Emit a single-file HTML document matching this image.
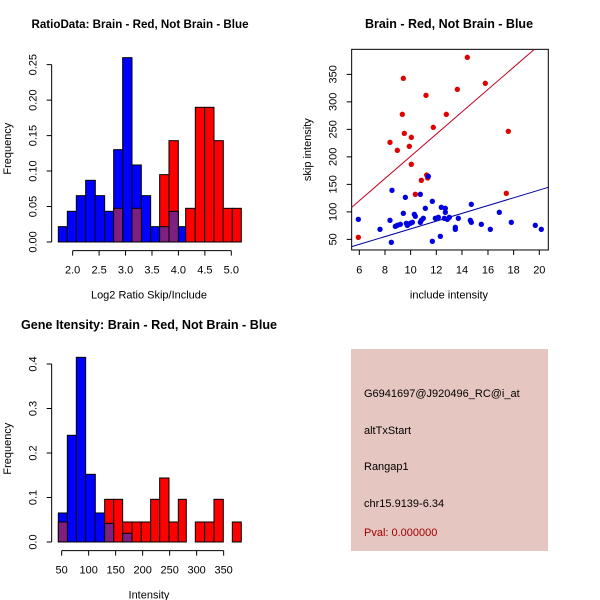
<!DOCTYPE html>
<html><head><style>body{margin:0;background:#fff}svg{display:block}text{font-family:"Liberation Sans",sans-serif}</style></head><body>
<svg width="600" height="600" viewBox="0 0 600 600" xmlns="http://www.w3.org/2000/svg">
<rect width="600" height="600" fill="#fff"/>
<text x="140" y="28" font-size="11.6" font-weight="bold" text-anchor="middle">RatioData: Brain - Red, Not Brain - Blue</text>
<text x="449" y="28" font-size="12.5" font-weight="bold" text-anchor="middle">Brain - Red, Not Brain - Blue</text>
<text x="149" y="329" font-size="12.6" font-weight="bold" text-anchor="middle">Gene Itensity: Brain - Red, Not Brain - Blue</text>

<!-- Top-left histogram -->
<g transform="translate(0,40) scale(0.3333)" stroke="#000" stroke-width="3" font-size="33">
<g fill="#0000ff">
<rect x="175" y="560" width="27" height="46"/><rect x="202" y="514" width="27" height="92"/><rect x="229" y="467" width="28" height="139"/><rect x="257" y="421" width="29" height="185"/><rect x="286" y="467" width="28" height="139"/><rect x="314" y="514" width="27" height="92"/><rect x="341" y="329" width="27" height="277"/><rect x="368" y="53" width="28" height="553"/><rect x="396" y="375" width="28" height="231"/><rect x="424" y="467" width="28" height="139"/><rect x="452" y="560" width="27" height="46"/><rect x="535" y="560" width="22" height="46"/>
</g>
<g fill="#ff0000">
<rect x="479" y="404" width="28" height="202"/><rect x="507" y="302" width="28" height="304"/><rect x="557" y="505" width="29" height="101"/><rect x="586" y="202" width="28" height="404"/><rect x="614" y="202" width="28" height="404"/><rect x="642" y="302" width="28" height="304"/><rect x="670" y="505" width="27" height="101"/><rect x="697" y="505" width="27" height="101"/>
</g>
<g fill="#7f1f7f">
<rect x="341" y="505" width="27" height="101"/><rect x="396" y="505" width="28" height="101"/><rect x="479" y="560" width="28" height="46"/><rect x="507" y="514" width="28" height="92"/>
</g>
<g fill="none"><path d="M155 74V606M140 606H155M140 499.6H155M140 393.2H155M140 286.8H155M140 180.4H155M140 74H155"/>
<path d="M218 632H694M218 632v15M297.3 632v15M376.7 632v15M456 632v15M535.3 632v15M614.7 632v15M694 632v15"/></g>
<g stroke="none" fill="#000">
<g text-anchor="middle"><text x="218" y="700">2.0</text><text x="297.3" y="700">2.5</text><text x="376.7" y="700">3.0</text><text x="456" y="700">3.5</text><text x="535.3" y="700">4.0</text><text x="614.7" y="700">4.5</text><text x="694" y="700">5.0</text>
<text transform="translate(110,606) rotate(-90)">0.00</text><text transform="translate(110,499.6) rotate(-90)">0.05</text><text transform="translate(110,393.2) rotate(-90)">0.10</text><text transform="translate(110,286.8) rotate(-90)">0.15</text><text transform="translate(110,180.4) rotate(-90)">0.20</text><text transform="translate(110,74) rotate(-90)">0.25</text>
<text x="447" y="775">Log2 Ratio Skip/Include</text><text transform="translate(33,326) rotate(-90)">Frequency</text></g></g>
</g>

<!-- Scatter -->
<g transform="translate(300,40) scale(0.3333)" stroke="#000" stroke-width="3" font-size="33">
<rect x="155" y="28" width="590" height="602" fill="none"/>
<path d="M155 502L703 28" stroke="#c00020" stroke-width="3"/>
<path d="M155 620L745 442" stroke="#0000a0" stroke-width="3"/>
<g stroke="none" fill="#e00000">
<circle cx="175" cy="592" r="8"/><circle cx="270" cy="307" r="8"/><circle cx="292" cy="331" r="8"/><circle cx="307" cy="223" r="8"/><circle cx="310" cy="115" r="8"/><circle cx="313" cy="280" r="8"/><circle cx="328" cy="319" r="8"/><circle cx="334" cy="292" r="8"/><circle cx="334" cy="373" r="8"/><circle cx="346" cy="463" r="8"/><circle cx="364" cy="421" r="8"/><circle cx="378" cy="166" r="8"/><circle cx="380" cy="405" r="8"/><circle cx="383" cy="414" r="8"/><circle cx="400" cy="262" r="8"/><circle cx="439" cy="223" r="8"/><circle cx="472" cy="148" r="8"/><circle cx="502" cy="52" r="8"/><circle cx="556" cy="130" r="8"/><circle cx="619" cy="460" r="8"/><circle cx="625" cy="274" r="8"/>
</g>
<g stroke="none" fill="#0000e0">
<circle cx="175" cy="538" r="8"/><circle cx="240" cy="568" r="8"/><circle cx="270" cy="541" r="8"/><circle cx="276" cy="451" r="8"/><circle cx="274" cy="607" r="8"/><circle cx="286" cy="559" r="8"/><circle cx="292" cy="556" r="8"/><circle cx="301" cy="553" r="8"/><circle cx="310" cy="520" r="8"/><circle cx="316" cy="472" r="8"/><circle cx="319" cy="550" r="8"/><circle cx="322" cy="556" r="8"/><circle cx="325" cy="553" r="8"/><circle cx="331" cy="550" r="8"/><circle cx="337" cy="547" r="8"/><circle cx="343" cy="523" r="8"/><circle cx="346" cy="529" r="8"/><circle cx="361" cy="463" r="8"/><circle cx="361" cy="547" r="8"/><circle cx="364" cy="541" r="8"/><circle cx="370" cy="535" r="8"/><circle cx="376" cy="505" r="8"/><circle cx="385" cy="409" r="8"/><circle cx="397" cy="484" r="8"/><circle cx="397" cy="604" r="8"/><circle cx="406" cy="535" r="8"/><circle cx="415" cy="532" r="8"/><circle cx="421" cy="589" r="8"/><circle cx="424" cy="502" r="8"/><circle cx="433" cy="535" r="8"/><circle cx="436" cy="505" r="8"/><circle cx="436" cy="517" r="8"/><circle cx="442" cy="538" r="8"/><circle cx="448" cy="532" r="8"/><circle cx="466" cy="562" r="8"/><circle cx="466" cy="568" r="8"/><circle cx="475" cy="535" r="8"/><circle cx="514" cy="493" r="8"/><circle cx="511" cy="541" r="8"/><circle cx="514" cy="547" r="8"/><circle cx="544" cy="553" r="8"/><circle cx="571" cy="568" r="8"/><circle cx="598" cy="517" r="8"/><circle cx="634" cy="547" r="8"/><circle cx="706" cy="556" r="8"/><circle cx="724" cy="568" r="8"/>
</g>
<path fill="none" d="M178 630v15M255 630v15M332 630v15M409 630v15M486 630v15M564 630v15M641 630v15M718 630v15M140 598H155M140 515.5H155M140 433H155M140 350.5H155M140 268H155M140 185.5H155M140 103H155"/>
<g stroke="none" fill="#000" text-anchor="middle">
<text x="178" y="700">6</text><text x="255" y="700">8</text><text x="332" y="700">10</text><text x="409" y="700">12</text><text x="486" y="700">14</text><text x="564" y="700">16</text><text x="641" y="700">18</text><text x="718" y="700">20</text>
<text transform="translate(110,598) rotate(-90)">50</text><text transform="translate(110,515.5) rotate(-90)">100</text><text transform="translate(110,433) rotate(-90)">150</text><text transform="translate(110,350.5) rotate(-90)">200</text><text transform="translate(110,268) rotate(-90)">250</text><text transform="translate(110,185.5) rotate(-90)">300</text><text transform="translate(110,103) rotate(-90)">350</text>
<text x="447" y="775">include intensity</text><text transform="translate(33,329) rotate(-90)">skip intensity</text></g>
</g>

<!-- Bottom-left histogram -->
<g transform="translate(0,340) scale(0.3333)" stroke="#000" stroke-width="3" font-size="33">
<g fill="#0000ff">
<rect x="175" y="519" width="27" height="87"/><rect x="202" y="286" width="27" height="320"/><rect x="229" y="52" width="28" height="554"/><rect x="257" y="403" width="29" height="203"/><rect x="286" y="519" width="28" height="87"/>
</g>
<g fill="#ff0000">
<rect x="314" y="478" width="27" height="128"/><rect x="341" y="478" width="27" height="128"/><rect x="368" y="546" width="28" height="60"/><rect x="396" y="546" width="28" height="60"/><rect x="424" y="546" width="28" height="60"/><rect x="452" y="478" width="27" height="128"/><rect x="479" y="414" width="28" height="192"/><rect x="507" y="546" width="28" height="60"/><rect x="535" y="478" width="24" height="128"/><rect x="586" y="546" width="28" height="60"/><rect x="614" y="546" width="28" height="60"/><rect x="642" y="478" width="28" height="128"/><rect x="697" y="546" width="27" height="60"/>
</g>
<g fill="#7f1f7f"><rect x="175" y="546" width="27" height="60"/><rect x="314" y="550" width="27" height="56"/><rect x="368" y="580" width="28" height="26"/></g>
<path fill="none" d="M155 72V606M140 606H155M140 472.5H155M140 339H155M140 205.5H155M140 72H155M185 632H671M185 632v15M266 632v15M347 632v15M428 632v15M509 632v15M590 632v15M671 632v15"/>
<g stroke="none" fill="#000" text-anchor="middle">
<text x="185" y="700">50</text><text x="266" y="700">100</text><text x="347" y="700">150</text><text x="428" y="700">200</text><text x="509" y="700">250</text><text x="590" y="700">300</text><text x="671" y="700">350</text>
<text transform="translate(110,606) rotate(-90)">0.0</text><text transform="translate(110,472.5) rotate(-90)">0.1</text><text transform="translate(110,339) rotate(-90)">0.2</text><text transform="translate(110,205.5) rotate(-90)">0.3</text><text transform="translate(110,72) rotate(-90)">0.4</text>
<text x="447" y="775">Intensity</text><text transform="translate(33,326) rotate(-90)">Frequency</text></g>
</g>

<!-- Info box -->
<rect x="351" y="349" width="197" height="202" fill="#e6c6c0"/>
<g font-size="11" fill="#000">
<text x="364" y="397">G6941697@J920496_RC@i_at</text>
<text x="364" y="434">altTxStart</text>
<text x="364" y="470">Rangap1</text>
<text x="364" y="507">chr15.9139-6.34</text>
<text x="364" y="536" fill="#a00000">Pval: 0.000000</text>
</g>
</svg>
</body></html>
